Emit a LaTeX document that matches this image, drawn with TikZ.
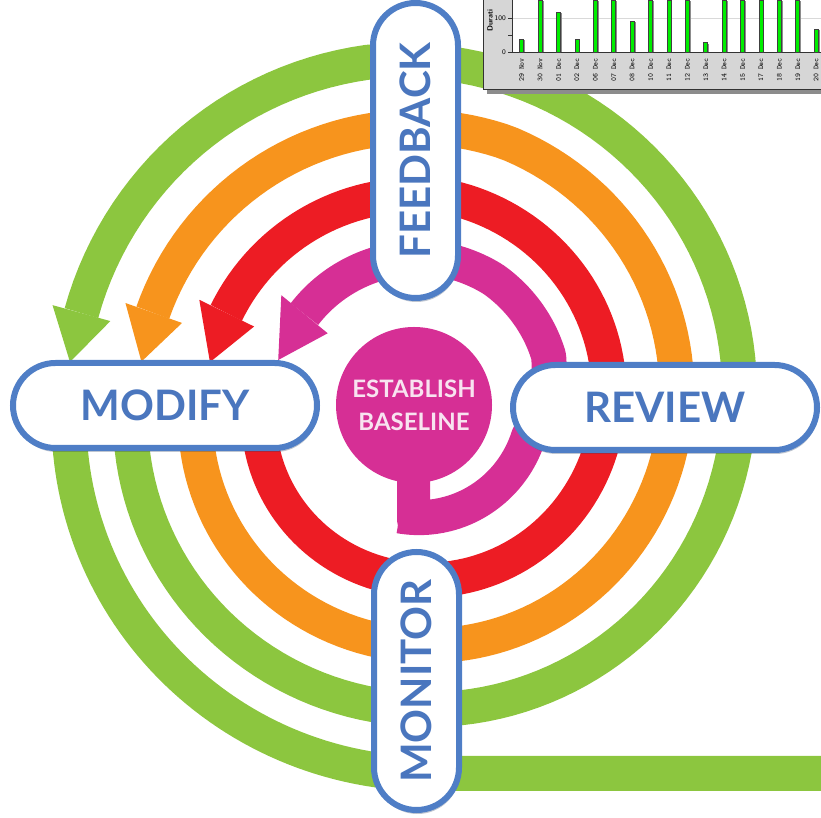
\documentclass[tikz,border=0pt]{standalone}
\usepackage{fontspec}
\setmainfont{Lato}
\usetikzlibrary{positioning,shapes.misc,shadows}

\definecolor{loopgreen}{HTML}{8CC63F}
\definecolor{looporange}{HTML}{F7941D}
\definecolor{loopred}{HTML}{ED1C24}
\definecolor{loopmagenta}{HTML}{D62F95}
\definecolor{pillblue}{HTML}{4F7EC6}
\definecolor{pilltext}{HTML}{4A76BE}
\definecolor{basetext}{HTML}{F8E3F0}
\definecolor{chartgrey}{HTML}{D6D6D6}
\definecolor{bargreen}{HTML}{00EE00}

\tikzset{
  band/.style={line width=35pt, line join=round},
  pill/.style={rounded rectangle, draw=pillblue, line width=6pt, fill=white,
    minimum width=304pt, minimum height=85pt, inner sep=0pt, text=pilltext,
    font=\bfseries\fontsize{42}{42}\selectfont,
    drop shadow={shadow xshift=1pt, shadow yshift=-4pt, opacity=0.3, fill=pillblue!50!black}},
  datelabel/.style={rotate=90, inner sep=0pt, font=\ttfamily\fontsize{7.5}{7.5}\selectfont},
}

\begin{document}
\begin{tikzpicture}[x=1pt, y=1pt,
  declare function={
    rmag(\x) = (\x<345) ? (112+0.07*(\x-262)) : ((\x<380) ? (117.8+0.7*(\x-345)) : ((\x<440) ? (min(142.3+0.15*(\x-380),148)) : (148-0.08*(\x-440))));
    rred(\x) = min(160+0.21*(\x-200),210);
    rorange(\x) = min(222.4+0.235*(\x-194),278);
    rgreen(\x) = min(286.8+0.222*(\x-191),346);
    router(\x) = 348+0.253*(\x-189);
  }]
  \useasboundingbox (0,0) rectangle (821,818);

  % the spiral, one turn per colour, centred on the baseline
  \begin{scope}[shift={(415,413)}]
    \draw[band, loopgreen] plot[domain=182:270, samples=60] (\x:{router(\x)}) -- (410,-368.5);
    \draw[band, loopgreen] plot[domain=182:524.6, samples=150] (\x:{rgreen(\x)});
    \fill[loopgreen] (524.6:316) -- (532.9:347.7) -- (524.6:376) -- cycle;
    \draw[band, looporange] plot[domain=182:520.6, samples=150] (\x:{rorange(\x)});
    \fill[looporange] (520.6:247) -- (531:277) -- (520.6:307) -- cycle;
    \draw[band, loopred] plot[domain=182:514, samples=150] (\x:{rred(\x)});
    \fill[loopred] (514:179) -- (528.2:209.5) -- (514:240) -- cycle;
    \draw[band, loopmagenta] plot[domain=262:500.6, samples=150] (\x:{rmag(\x)});
    \fill[loopmagenta] (500.6:113) -- (521.8:144) -- (500.6:173) -- cycle;
  \end{scope}

  % baseline with its stem
  \fill[loopmagenta] (397,360) [rounded corners=12pt] -- (397,285) -- (430,285) [sharp corners] -- (430,360) -- cycle;
  \node[circle, fill=loopmagenta, minimum size=156pt, inner sep=0pt, text=basetext,
    align=center, font=\bfseries\fontsize{24}{33}\selectfont] (baseline) at (414,413) {ESTABLISH\\BASELINE};

  % stages
  \node[pill] (modify) at (165,412.5) {MODIFY};
  \node[pill] (review) at (665,410.5) {REVIEW};
  \node[pill, rotate=90, minimum width=295pt] (feedback) at (415.5,667.5) {FEEDBACK};
  \node[pill, rotate=90, minimum width=258pt] (monitor) at (416.5,137) {MONITOR};

  % duration chart
  \begin{scope}
    \clip (483,724) rectangle (821,818);
    \fill[black!45] (487,724) rectangle (821,728);
    \fill[chartgrey] (483,728) rectangle (821,818);
    \fill[white] (512,766) rectangle (821,818);
    \draw[black!15] (512,800) -- (821,800);
    \draw[black!80, line width=0.8pt] (483.5,728) -- (483.5,818) (483,728.5) -- (821,728.5);
    \draw[black!80, line width=0.7pt] (512,818) -- (512,766) -- (821,766);
    \draw[black!80, line width=0.6pt] (508,800) -- (512,800) (508,783) -- (512,783) (508,766) -- (512,766);
    \node[anchor=east, inner sep=0pt, font=\sffamily\fontsize{7}{7}\selectfont] (tick100) at (506,800) {100};
    \node[anchor=east, inner sep=0pt, font=\sffamily\fontsize{7}{7}\selectfont] (tick0) at (506,766) {0};
    \node[rotate=90, anchor=west, inner sep=0pt, font=\sffamily\bfseries\fontsize{7.5}{7.5}\selectfont] (ylabel) at (490,786) {Durati};
    \foreach \i/\top/\day in {0/39/29 Nov, 1/0/30 Nov, 2/12/01 Dec, 3/39/02 Dec, 4/0/06 Dec,
        5/0/07 Dec, 6/21/08 Dec, 7/0/10 Dec, 8/0/11 Dec, 9/0/12 Dec, 10/42.7/13 Dec,
        11/0/14 Dec, 12/0/15 Dec, 13/0/17 Dec, 14/0/18 Dec, 15/0/19 Dec, 16/29/20 Dec} {
      \fill[black!45] ({521.7+18.4*\i+2},766) rectangle ({521.7+18.4*\i+3.5},{818-\top-1});
      \filldraw[fill=bargreen, draw=black!75, line width=0.5pt]
        ({521.7+18.4*\i-2},766) rectangle ({521.7+18.4*\i+2},{818-\top});
      \node[datelabel] (day\i) at ({521.7+18.4*\i},748) {\day};
    }
  \end{scope}
\end{tikzpicture}
\end{document}
